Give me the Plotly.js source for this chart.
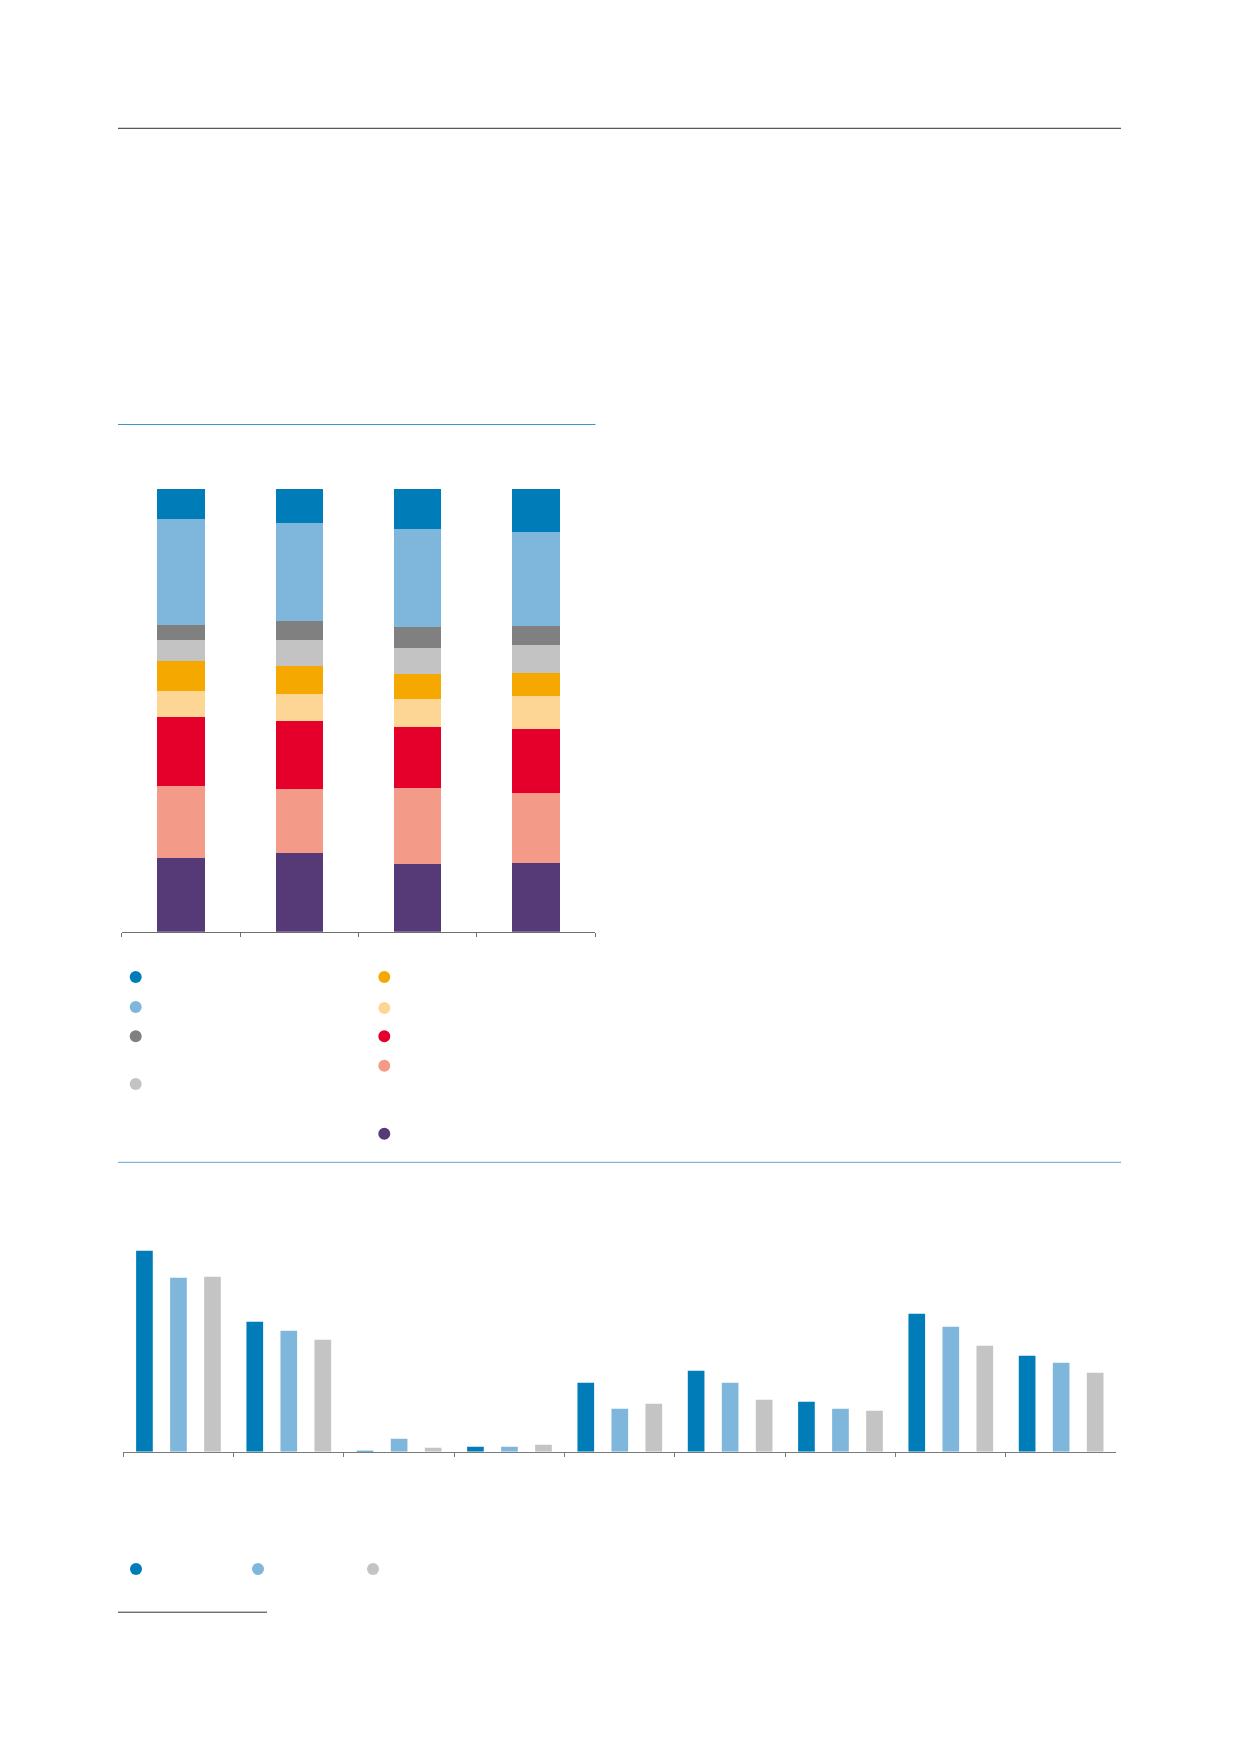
<!DOCTYPE html>
<html>
<head>
<meta charset="utf-8">
<script src="https://cdn.plot.ly/plotly-3.0.1.min.js"></script>
<style>
html,body{margin:0;padding:0;background:#fff;}
#wrap{position:relative;width:1239px;height:1752px;}
#chartA,#chartB{position:absolute;left:0;top:0;width:1239px;height:1752px;}
#chartB{pointer-events:none;}
</style>
</head>
<body>
<div id="wrap"><div id="chartA"></div><div id="chartB"></div></div>
<script>
// ---- Stacked chart data (shares, %) ----
var stackCategories = ["Col 1", "Col 2", "Col 3", "Col 4"];
var stackPurple      = [16.7, 17.8, 15.2, 15.5];
var stackSalmon      = [16.3, 14.5, 17.2, 15.9];
var stackRed         = [15.5, 15.4, 13.9, 14.5];
var stackLightOrange = [5.9, 6.0, 6.2, 7.4];
var stackOrange      = [6.7, 6.4, 5.6, 5.2];
var stackLightGrey   = [4.8, 5.8, 6.0, 6.3];
var stackDarkGrey    = [3.4, 4.3, 4.7, 4.3];
var stackLightBlue   = [23.9, 22.1, 22.2, 21.2];
var stackDarkBlue    = [6.8, 7.7, 9.0, 9.7];

// ---- Grouped chart data ----
var groupCategories = ["G1", "G2", "G3", "G4", "G5", "G6", "G7", "G8", "G9"];
var groupSeries1 = [20.1, 13.0, 0.1, 0.5, 6.9, 8.1, 5.0, 13.8, 9.6];
var groupSeries2 = [17.4, 12.1, 1.3, 0.5, 4.3, 6.9, 4.3, 12.5, 8.9];
var groupSeries3 = [17.5, 11.2, 0.4, 0.7, 4.8, 5.2, 4.1, 10.6, 7.9];

var C = {
  darkBlue: "#007DB8", lightBlue: "#7FB7DC", darkGrey: "#808080", lightGrey: "#C3C3C3",
  orange: "#F5A800", lightOrange: "#FDD594", red: "#E4002B", salmon: "#F39A88", purple: "#553A77",
  grey3: "#C4C4C4"
};

var W = 1239, H = 1752;
function px(x){ return x / W; }
function py(y){ return 1 - y / H; }

var stackDefs = [
  ["Purple", stackPurple, C.purple],
  ["Salmon", stackSalmon, C.salmon],
  ["Red", stackRed, C.red],
  ["Light orange", stackLightOrange, C.lightOrange],
  ["Orange", stackOrange, C.orange],
  ["Light grey", stackLightGrey, C.lightGrey],
  ["Dark grey", stackDarkGrey, C.darkGrey],
  ["Light blue", stackLightBlue, C.lightBlue],
  ["Dark blue", stackDarkBlue, C.darkBlue]
];
var tracesA = stackDefs.map(function(d){
  return {type: "bar", name: d[0], x: stackCategories, y: d[1],
          marker: {color: d[2], line: {width: 0}}, hoverinfo: "none"};
});

function hline(x0, x1, y, color, w){
  return {type: "line", xref: "paper", yref: "paper", x0: px(x0), x1: px(x1), y0: py(y), y1: py(y),
          line: {color: color, width: w}};
}
function dot(x, y, color){
  var r = 6;
  return {type: "circle", xref: "paper", yref: "paper", x0: px(x - r), x1: px(x + r),
          y0: py(y + r), y1: py(y - r), fillcolor: color, line: {width: 0}};
}

var shapes = [
  hline(118, 1121, 128.3, "#5a5a5a", 1.3),
  hline(118, 595.5, 424.5, "#3f93c6", 1),
  hline(118, 1121, 1162.3, "#5ea3cf", 1),
  hline(118, 267, 1612.2, "#333333", 1),
  // stacked legend
  dot(135.7, 977, C.darkBlue), dot(135.7, 1007, C.lightBlue), dot(135.7, 1036.3, C.darkGrey), dot(135.7, 1084, C.lightGrey),
  dot(384.3, 977, C.orange), dot(384.3, 1008, C.lightOrange), dot(384.3, 1036.3, C.red), dot(384.3, 1065.7, C.salmon), dot(384.3, 1133.7, C.purple),
  // grouped legend
  dot(136, 1569, C.darkBlue), dot(258, 1569, C.lightBlue), dot(373, 1569, C.grey3)
];

var layoutA = {
  width: W, height: H, margin: {l: 0, r: 0, t: 0, b: 0},
  paper_bgcolor: "#ffffff", plot_bgcolor: "rgba(0,0,0,0)",
  showlegend: false, barmode: "stack", bargap: 0.6,
  xaxis: {domain: [px(121.7), px(595)], range: [-0.5, 3.5], type: "category",
          showticklabels: false, showgrid: false, zeroline: false,
          showline: true, linecolor: "#6e6e6e", linewidth: 1,
          ticks: "outside", tickson: "boundaries", ticklen: 4, tickcolor: "#6e6e6e", tickwidth: 1,
          fixedrange: true},
  yaxis: {domain: [py(931.7), py(489)], range: [0, 100], visible: false, fixedrange: true},
  shapes: shapes
};

var tracesB = [
  {type: "bar", name: "Series 1", x: groupCategories, y: groupSeries1, marker: {color: C.darkBlue}, hoverinfo: "none"},
  {type: "bar", name: "Series 2", x: groupCategories, y: groupSeries2, marker: {color: C.lightBlue}, hoverinfo: "none"},
  {type: "bar", name: "Series 3", x: groupCategories, y: groupSeries3, marker: {color: C.grey3}, hoverinfo: "none"}
];
var layoutB = {
  width: W, height: H, margin: {l: 0, r: 0, t: 0, b: 0},
  paper_bgcolor: "rgba(0,0,0,0)", plot_bgcolor: "rgba(0,0,0,0)",
  showlegend: false, barmode: "group", bargap: 0.075, bargroupgap: 0.51,
  xaxis: {domain: [px(123.3), px(1116.3)], range: [-0.5, 8.5], type: "category",
          showticklabels: false, showgrid: false, zeroline: false,
          showline: true, linecolor: "#7a7a7a", linewidth: 1,
          ticks: "outside", tickson: "boundaries", ticklen: 4, tickcolor: "#7a7a7a", tickwidth: 1,
          fixedrange: true},
  yaxis: {domain: [py(1451.7), py(1201.7)], range: [0, 25], visible: false, fixedrange: true}
};

Plotly.newPlot("chartA", tracesA, layoutA, {staticPlot: true, displayModeBar: false});
Plotly.newPlot("chartB", tracesB, layoutB, {staticPlot: true, displayModeBar: false});
</script>
</body>
</html>
